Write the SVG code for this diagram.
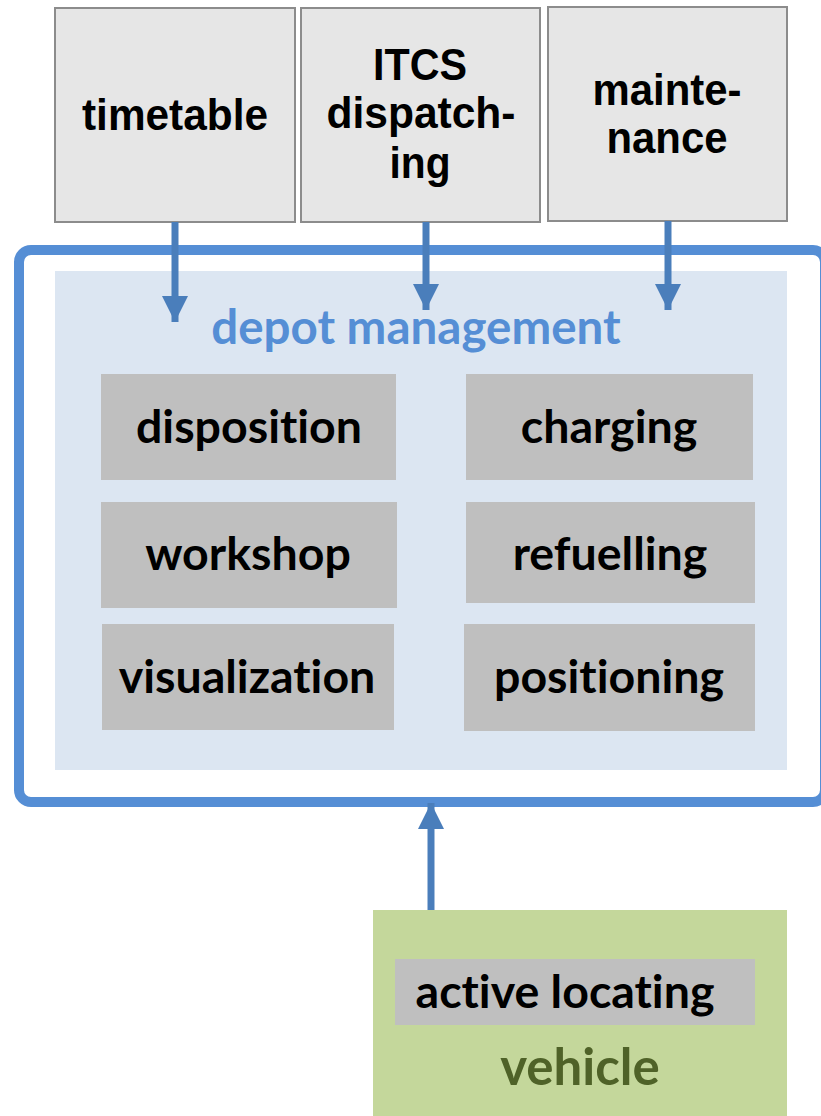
<svg xmlns="http://www.w3.org/2000/svg" width="821" height="1116" viewBox="0 0 821 1116">
<defs>
<style>
.src{fill:#e6e6e6;stroke:#8c8c8c;stroke-width:2}
.srct{font-family:"Liberation Sans",Arial,sans-serif;font-weight:bold;font-size:44px;fill:#000;text-anchor:middle}
.mod{fill:#bfbfbf}
.lato{font-family:Lato,"Open Sans",sans-serif;font-weight:bold;font-variant-ligatures:none;text-anchor:middle}
.modt{font-size:46.5px;fill:#000}
.conn{stroke:#4a7ebb;stroke-width:7;fill:none}
</style>
<marker id="ah" markerUnits="userSpaceOnUse" markerWidth="28" markerHeight="28" viewBox="0 0 28 28" refX="26" refY="14" orient="auto">
<path d="M0,1 L26,14 L0,27 Z" fill="#4a7ebb"/>
</marker>
</defs>
<rect x="0" y="0" width="821" height="1116" fill="#ffffff"/>
<g id="depot">
<rect x="19" y="250" width="806" height="552" rx="12" fill="#ffffff" stroke="#558ed5" stroke-width="10"/>
<rect x="55" y="271" width="732" height="499" fill="#dce6f2"/>
<text class="lato" x="416" y="344" font-size="47.5" fill="#558ed5">depot management</text>
</g>
<g id="timetable">
<rect class="src" x="55" y="8" width="240" height="214"/>
<text class="srct" x="175" y="130" textLength="186" lengthAdjust="spacingAndGlyphs">timetable</text>
</g>
<g id="itcs">
<rect class="src" x="301" y="8" width="239" height="214"/>
<text class="srct" x="420" y="80" textLength="94" lengthAdjust="spacingAndGlyphs">ITCS</text>
<text class="srct" x="421" y="128" textLength="189" lengthAdjust="spacingAndGlyphs">dispatch-</text>
<text class="srct" x="420" y="178" textLength="61" lengthAdjust="spacingAndGlyphs">ing</text>
</g>
<g id="maintenance">
<rect class="src" x="548" y="7" width="239" height="214"/>
<text class="srct" x="667" y="105" textLength="149" lengthAdjust="spacingAndGlyphs">mainte-</text>
<text class="srct" x="667" y="153" textLength="121" lengthAdjust="spacingAndGlyphs">nance</text>
</g>
<g id="disposition">
<rect class="mod" x="101" y="374" width="295" height="106"/>
<text class="lato modt" x="249" y="443">disposition</text>
</g>
<g id="charging">
<rect class="mod" x="466" y="374" width="287" height="106"/>
<text class="lato modt" x="609" y="443">charging</text>
</g>
<g id="workshop">
<rect class="mod" x="101" y="502" width="296" height="106"/>
<text class="lato modt" x="248" y="570">workshop</text>
</g>
<g id="refuelling">
<rect class="mod" x="466" y="502" width="289" height="101"/>
<text class="lato modt" x="610" y="570">refuelling</text>
</g>
<g id="visualization">
<rect class="mod" x="102" y="624" width="292" height="106"/>
<text class="lato modt" x="247" y="693">visualization</text>
</g>
<g id="positioning">
<rect class="mod" x="464" y="624" width="291" height="107"/>
<text class="lato modt" x="609" y="693">positioning</text>
</g>
<g id="vehicle">
<rect x="373" y="910" width="414" height="206" fill="#c4d79b"/>
<rect class="mod" x="395" y="959" width="360" height="66"/>
<text class="lato modt" x="565" y="1008">active locating</text>
<text class="lato" x="580" y="1085" font-size="51" fill="#4f6228">vehicle</text>
</g>
<g id="connectors">
<line class="conn" x1="175" y1="222" x2="175" y2="322" marker-end="url(#ah)"/>
<line class="conn" x1="426" y1="222" x2="426" y2="310" marker-end="url(#ah)"/>
<line class="conn" x1="668" y1="221" x2="668" y2="310" marker-end="url(#ah)"/>
<line class="conn" x1="431" y1="910" x2="431" y2="803" marker-end="url(#ah)"/>
</g>
</svg>
